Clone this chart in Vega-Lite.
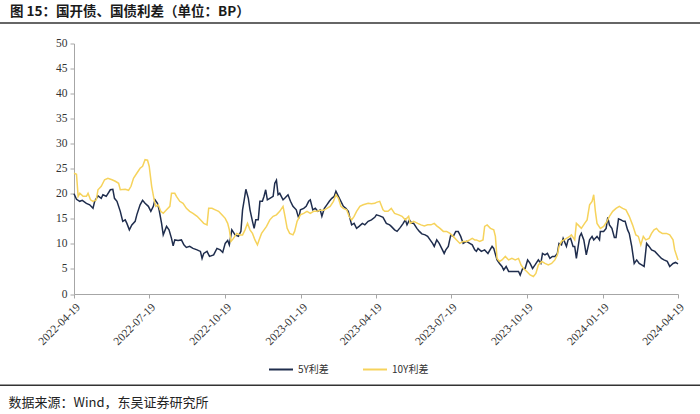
{
  "$schema": "https://vega.github.io/schema/vega-lite/v6.json",
  "width": 604,
  "height": 250.5,
  "autosize": {"type": "none"},
  "padding": {"left": 74, "top": 43.5, "right": 22, "bottom": 120},
  "background": "white",
  "title": {"text": "图 15：国开债、国债利差（单位：BP）", "anchor": "start", "frame": "group", "dx": -64, "offset": 4, "fontSize": 13.5, "fontWeight": "bold", "font": "Noto Sans CJK SC", "color": "#1a1a1a"},
  "config": {
    "view": {"stroke": null},
    "axisY": {"values": [0, 5, 10, 15, 20, 25, 30, 35, 40, 45, 50], "labelFont": "Liberation Serif", "labelFontSize": 11.5, "labelColor": "#333333", "domainColor": "#a6a6a6", "tickColor": "#a6a6a6", "tickSize": 4, "grid": false, "title": null, "labelPadding": 3, "labelOverlap": false},
    "legend": {"orient": "none", "legendX": 194, "legendY": 313, "direction": "horizontal", "symbolType": "stroke", "symbolSize": 576, "symbolStrokeWidth": 2, "labelFont": "Noto Sans CJK SC", "labelFontSize": 10, "labelColor": "#333", "columnPadding": 30, "labelOffset": 4, "padding": 0}
  },
  "layer": [
    {
      "data": {"values": [
        {"d":"2022-04-19","s":"5Y利差","v":20.0},{"d":"2022-04-22","s":"5Y利差","v":18.9},{"d":"2022-04-26","s":"5Y利差","v":18.5},{"d":"2022-04-29","s":"5Y利差","v":18.7},{"d":"2022-05-04","s":"5Y利差","v":18.1},{"d":"2022-05-08","s":"5Y利差","v":17.8},{"d":"2022-05-12","s":"5Y利差","v":17.1},{"d":"2022-05-14","s":"5Y利差","v":18.5},{"d":"2022-05-18","s":"5Y利差","v":19.6},{"d":"2022-05-22","s":"5Y利差","v":19.1},{"d":"2022-05-24","s":"5Y利差","v":19.8},{"d":"2022-05-28","s":"5Y利差","v":19.5},{"d":"2022-06-02","s":"5Y利差","v":20.8},{"d":"2022-06-05","s":"5Y利差","v":20.9},{"d":"2022-06-07","s":"5Y利差","v":19.1},{"d":"2022-06-10","s":"5Y利差","v":18.5},{"d":"2022-06-14","s":"5Y利差","v":16.5},{"d":"2022-06-17","s":"5Y利差","v":14.5},{"d":"2022-06-20","s":"5Y利差","v":14.8},{"d":"2022-06-22","s":"5Y利差","v":14.1},{"d":"2022-06-25","s":"5Y利差","v":12.8},{"d":"2022-06-28","s":"5Y利差","v":13.8},{"d":"2022-07-02","s":"5Y利差","v":14.5},{"d":"2022-07-04","s":"5Y利差","v":15.8},{"d":"2022-07-08","s":"5Y利差","v":17.8},{"d":"2022-07-11","s":"5Y利差","v":18.7},{"d":"2022-07-14","s":"5Y利差","v":18.1},{"d":"2022-07-18","s":"5Y利差","v":17.5},{"d":"2022-07-21","s":"5Y利差","v":16.5},{"d":"2022-07-24","s":"5Y利差","v":17.5},{"d":"2022-07-26","s":"5Y利差","v":18.8},{"d":"2022-07-29","s":"5Y利差","v":18.1},{"d":"2022-07-31","s":"5Y利差","v":16.8},{"d":"2022-08-03","s":"5Y利差","v":14.1},{"d":"2022-08-05","s":"5Y利差","v":11.8},{"d":"2022-08-09","s":"5Y利差","v":13.5},{"d":"2022-08-12","s":"5Y利差","v":12.8},{"d":"2022-08-15","s":"5Y利差","v":11.1},{"d":"2022-08-17","s":"5Y利差","v":9.6},{"d":"2022-08-19","s":"5Y利差","v":10.8},{"d":"2022-08-23","s":"5Y利差","v":10.7},{"d":"2022-08-27","s":"5Y利差","v":10.8},{"d":"2022-08-30","s":"5Y利差","v":9.8},{"d":"2022-09-02","s":"5Y利差","v":9.3},{"d":"2022-09-06","s":"5Y利差","v":9.5},{"d":"2022-09-10","s":"5Y利差","v":9.1},{"d":"2022-09-15","s":"5Y利差","v":8.8},{"d":"2022-09-19","s":"5Y利差","v":8.5},{"d":"2022-09-21","s":"5Y利差","v":7.1},{"d":"2022-09-23","s":"5Y利差","v":8.1},{"d":"2022-09-27","s":"5Y利差","v":8.5},{"d":"2022-09-30","s":"5Y利差","v":7.5},{"d":"2022-10-05","s":"5Y利差","v":7.8},{"d":"2022-10-09","s":"5Y利差","v":9.1},{"d":"2022-10-13","s":"5Y利差","v":8.8},{"d":"2022-10-16","s":"5Y利差","v":8.3},{"d":"2022-10-19","s":"5Y利差","v":10.1},{"d":"2022-10-22","s":"5Y利差","v":10.7},{"d":"2022-10-24","s":"5Y利差","v":9.8},{"d":"2022-10-27","s":"5Y利差","v":12.8},{"d":"2022-10-29","s":"5Y利差","v":12.3},{"d":"2022-10-31","s":"5Y利差","v":11.8},{"d":"2022-11-04","s":"5Y利差","v":11.5},{"d":"2022-11-07","s":"5Y利差","v":12.5},{"d":"2022-11-09","s":"5Y利差","v":16.8},{"d":"2022-11-11","s":"5Y利差","v":18.8},{"d":"2022-11-13","s":"5Y利差","v":20.9},{"d":"2022-11-16","s":"5Y利差","v":19.1},{"d":"2022-11-18","s":"5Y利差","v":16.8},{"d":"2022-11-21","s":"5Y利差","v":14.5},{"d":"2022-11-23","s":"5Y利差","v":13.1},{"d":"2022-11-25","s":"5Y利差","v":14.8},{"d":"2022-11-28","s":"5Y利差","v":14.8},{"d":"2022-11-30","s":"5Y利差","v":18.5},{"d":"2022-12-03","s":"5Y利差","v":18.5},{"d":"2022-12-05","s":"5Y利差","v":19.5},{"d":"2022-12-07","s":"5Y利差","v":20.8},{"d":"2022-12-09","s":"5Y利差","v":18.8},{"d":"2022-12-12","s":"5Y利差","v":19.1},{"d":"2022-12-16","s":"5Y利差","v":19.5},{"d":"2022-12-18","s":"5Y利差","v":22.1},{"d":"2022-12-20","s":"5Y利差","v":22.7},{"d":"2022-12-22","s":"5Y利差","v":19.8},{"d":"2022-12-24","s":"5Y利差","v":20.1},{"d":"2022-12-28","s":"5Y利差","v":18.8},{"d":"2022-12-30","s":"5Y利差","v":19.1},{"d":"2023-01-03","s":"5Y利差","v":19.8},{"d":"2023-01-06","s":"5Y利差","v":18.5},{"d":"2023-01-09","s":"5Y利差","v":17.5},{"d":"2023-01-13","s":"5Y利差","v":16.8},{"d":"2023-01-16","s":"5Y利差","v":15.1},{"d":"2023-01-18","s":"5Y利差","v":16.8},{"d":"2023-01-22","s":"5Y利差","v":17.1},{"d":"2023-01-25","s":"5Y利差","v":17.5},{"d":"2023-01-28","s":"5Y利差","v":18.5},{"d":"2023-01-30","s":"5Y利差","v":18.8},{"d":"2023-02-02","s":"5Y利差","v":16.8},{"d":"2023-02-05","s":"5Y利差","v":17.1},{"d":"2023-02-08","s":"5Y利差","v":16.5},{"d":"2023-02-11","s":"5Y利差","v":16.8},{"d":"2023-02-13","s":"5Y利差","v":15.5},{"d":"2023-02-16","s":"5Y利差","v":17.1},{"d":"2023-02-19","s":"5Y利差","v":17.8},{"d":"2023-02-22","s":"5Y利差","v":18.5},{"d":"2023-02-25","s":"5Y利差","v":19.1},{"d":"2023-02-28","s":"5Y利差","v":19.5},{"d":"2023-03-02","s":"5Y利差","v":20.5},{"d":"2023-03-05","s":"5Y利差","v":19.5},{"d":"2023-03-08","s":"5Y利差","v":18.5},{"d":"2023-03-11","s":"5Y利差","v":17.5},{"d":"2023-03-14","s":"5Y利差","v":17.1},{"d":"2023-03-17","s":"5Y利差","v":16.5},{"d":"2023-03-19","s":"5Y利差","v":15.1},{"d":"2023-03-21","s":"5Y利差","v":13.8},{"d":"2023-03-24","s":"5Y利差","v":14.1},{"d":"2023-03-27","s":"5Y利差","v":13.1},{"d":"2023-03-30","s":"5Y利差","v":13.5},{"d":"2023-04-03","s":"5Y利差","v":14.1},{"d":"2023-04-06","s":"5Y利差","v":13.8},{"d":"2023-04-10","s":"5Y利差","v":14.5},{"d":"2023-04-14","s":"5Y利差","v":14.8},{"d":"2023-04-18","s":"5Y利差","v":15.3},{"d":"2023-04-20","s":"5Y利差","v":15.8},{"d":"2023-04-24","s":"5Y利差","v":15.6},{"d":"2023-04-28","s":"5Y利差","v":15.3},{"d":"2023-05-02","s":"5Y利差","v":14.1},{"d":"2023-05-06","s":"5Y利差","v":13.8},{"d":"2023-05-08","s":"5Y利差","v":13.5},{"d":"2023-05-12","s":"5Y利差","v":12.8},{"d":"2023-05-15","s":"5Y利差","v":12.5},{"d":"2023-05-19","s":"5Y利差","v":13.3},{"d":"2023-05-22","s":"5Y利差","v":14.0},{"d":"2023-05-25","s":"5Y利差","v":14.8},{"d":"2023-05-27","s":"5Y利差","v":13.8},{"d":"2023-05-30","s":"5Y利差","v":14.8},{"d":"2023-06-02","s":"5Y利差","v":14.1},{"d":"2023-06-04","s":"5Y利差","v":14.1},{"d":"2023-06-08","s":"5Y利差","v":13.1},{"d":"2023-06-11","s":"5Y利差","v":12.5},{"d":"2023-06-14","s":"5Y利差","v":12.0},{"d":"2023-06-18","s":"5Y利差","v":11.8},{"d":"2023-06-21","s":"5Y利差","v":11.5},{"d":"2023-06-24","s":"5Y利差","v":10.8},{"d":"2023-06-27","s":"5Y利差","v":10.1},{"d":"2023-06-29","s":"5Y利差","v":9.5},{"d":"2023-07-02","s":"5Y利差","v":10.8},{"d":"2023-07-05","s":"5Y利差","v":10.1},{"d":"2023-07-08","s":"5Y利差","v":9.1},{"d":"2023-07-11","s":"5Y利差","v":8.1},{"d":"2023-07-13","s":"5Y利差","v":8.8},{"d":"2023-07-16","s":"5Y利差","v":9.5},{"d":"2023-07-19","s":"5Y利差","v":11.8},{"d":"2023-07-22","s":"5Y利差","v":11.5},{"d":"2023-07-25","s":"5Y利差","v":12.5},{"d":"2023-07-28","s":"5Y利差","v":12.5},{"d":"2023-07-31","s":"5Y利差","v":11.5},{"d":"2023-08-03","s":"5Y利差","v":10.1},{"d":"2023-08-07","s":"5Y利差","v":10.5},{"d":"2023-08-11","s":"5Y利差","v":10.1},{"d":"2023-08-14","s":"5Y利差","v":9.8},{"d":"2023-08-17","s":"5Y利差","v":8.8},{"d":"2023-08-19","s":"5Y利差","v":8.5},{"d":"2023-08-21","s":"5Y利差","v":9.1},{"d":"2023-08-25","s":"5Y利差","v":8.5},{"d":"2023-08-29","s":"5Y利差","v":8.8},{"d":"2023-09-02","s":"5Y利差","v":8.1},{"d":"2023-09-07","s":"5Y利差","v":9.5},{"d":"2023-09-09","s":"5Y利差","v":9.1},{"d":"2023-09-13","s":"5Y利差","v":6.8},{"d":"2023-09-16","s":"5Y利差","v":6.1},{"d":"2023-09-19","s":"5Y利差","v":5.5},{"d":"2023-09-21","s":"5Y利差","v":4.8},{"d":"2023-09-24","s":"5Y利差","v":5.5},{"d":"2023-09-27","s":"5Y利差","v":4.5},{"d":"2023-10-01","s":"5Y利差","v":4.5},{"d":"2023-10-05","s":"5Y利差","v":4.5},{"d":"2023-10-09","s":"5Y利差","v":4.5},{"d":"2023-10-11","s":"5Y利差","v":3.8},{"d":"2023-10-14","s":"5Y利差","v":5.1},{"d":"2023-10-17","s":"5Y利差","v":5.1},{"d":"2023-10-20","s":"5Y利差","v":6.8},{"d":"2023-10-23","s":"5Y利差","v":6.1},{"d":"2023-10-26","s":"5Y利差","v":5.1},{"d":"2023-10-29","s":"5Y利差","v":5.8},{"d":"2023-11-02","s":"5Y利差","v":6.8},{"d":"2023-11-05","s":"5Y利差","v":6.1},{"d":"2023-11-07","s":"5Y利差","v":8.1},{"d":"2023-11-10","s":"5Y利差","v":7.8},{"d":"2023-11-13","s":"5Y利差","v":8.1},{"d":"2023-11-16","s":"5Y利差","v":7.1},{"d":"2023-11-19","s":"5Y利差","v":7.5},{"d":"2023-11-22","s":"5Y利差","v":7.5},{"d":"2023-11-25","s":"5Y利差","v":8.1},{"d":"2023-11-27","s":"5Y利差","v":10.1},{"d":"2023-11-30","s":"5Y利差","v":9.8},{"d":"2023-12-02","s":"5Y利差","v":11.1},{"d":"2023-12-06","s":"5Y利差","v":9.5},{"d":"2023-12-08","s":"5Y利差","v":10.8},{"d":"2023-12-11","s":"5Y利差","v":11.1},{"d":"2023-12-14","s":"5Y利差","v":9.5},{"d":"2023-12-16","s":"5Y利差","v":9.5},{"d":"2023-12-18","s":"5Y利差","v":7.1},{"d":"2023-12-22","s":"5Y利差","v":11.5},{"d":"2023-12-24","s":"5Y利差","v":12.1},{"d":"2023-12-27","s":"5Y利差","v":10.8},{"d":"2023-12-30","s":"5Y利差","v":7.8},{"d":"2024-01-03","s":"5Y利差","v":10.8},{"d":"2024-01-06","s":"5Y利差","v":11.5},{"d":"2024-01-08","s":"5Y利差","v":10.8},{"d":"2024-01-12","s":"5Y利差","v":11.5},{"d":"2024-01-15","s":"5Y利差","v":10.8},{"d":"2024-01-16","s":"5Y利差","v":12.5},{"d":"2024-01-20","s":"5Y利差","v":12.5},{"d":"2024-01-23","s":"5Y利差","v":13.1},{"d":"2024-01-25","s":"5Y利差","v":15.3},{"d":"2024-01-27","s":"5Y利差","v":13.8},{"d":"2024-01-30","s":"5Y利差","v":13.1},{"d":"2024-02-02","s":"5Y利差","v":11.3},{"d":"2024-02-04","s":"5Y利差","v":11.3},{"d":"2024-02-07","s":"5Y利差","v":15.0},{"d":"2024-02-10","s":"5Y利差","v":14.8},{"d":"2024-02-13","s":"5Y利差","v":14.5},{"d":"2024-02-15","s":"5Y利差","v":14.5},{"d":"2024-02-18","s":"5Y利差","v":12.8},{"d":"2024-02-20","s":"5Y利差","v":12.1},{"d":"2024-02-23","s":"5Y利差","v":9.5},{"d":"2024-02-26","s":"5Y利差","v":6.1},{"d":"2024-02-29","s":"5Y利差","v":6.8},{"d":"2024-03-03","s":"5Y利差","v":6.1},{"d":"2024-03-06","s":"5Y利差","v":5.8},{"d":"2024-03-09","s":"5Y利差","v":5.5},{"d":"2024-03-12","s":"5Y利差","v":10.1},{"d":"2024-03-15","s":"5Y利差","v":9.5},{"d":"2024-03-18","s":"5Y利差","v":8.8},{"d":"2024-03-22","s":"5Y利差","v":8.5},{"d":"2024-03-26","s":"5Y利差","v":7.8},{"d":"2024-03-30","s":"5Y利差","v":7.1},{"d":"2024-04-02","s":"5Y利差","v":6.8},{"d":"2024-04-06","s":"5Y利差","v":6.5},{"d":"2024-04-09","s":"5Y利差","v":5.5},{"d":"2024-04-13","s":"5Y利差","v":6.1},{"d":"2024-04-16","s":"5Y利差","v":6.3},{"d":"2024-04-19","s":"5Y利差","v":6.0},
        {"d":"2022-04-19","s":"10Y利差","v":24.1},{"d":"2022-04-22","s":"10Y利差","v":23.9},{"d":"2022-04-24","s":"10Y利差","v":19.5},{"d":"2022-04-26","s":"10Y利差","v":20.1},{"d":"2022-04-30","s":"10Y利差","v":19.5},{"d":"2022-05-04","s":"10Y利差","v":19.5},{"d":"2022-05-06","s":"10Y利差","v":20.1},{"d":"2022-05-09","s":"10Y利差","v":18.8},{"d":"2022-05-12","s":"10Y利差","v":18.5},{"d":"2022-05-16","s":"10Y利差","v":18.8},{"d":"2022-05-18","s":"10Y利差","v":20.8},{"d":"2022-05-22","s":"10Y利差","v":21.5},{"d":"2022-05-26","s":"10Y利差","v":22.8},{"d":"2022-05-30","s":"10Y利差","v":23.1},{"d":"2022-06-04","s":"10Y利差","v":22.8},{"d":"2022-06-08","s":"10Y利差","v":22.5},{"d":"2022-06-12","s":"10Y利差","v":22.1},{"d":"2022-06-14","s":"10Y利差","v":20.8},{"d":"2022-06-20","s":"10Y利差","v":20.9},{"d":"2022-06-24","s":"10Y利差","v":20.7},{"d":"2022-06-27","s":"10Y利差","v":21.5},{"d":"2022-06-30","s":"10Y利差","v":23.1},{"d":"2022-07-04","s":"10Y利差","v":24.1},{"d":"2022-07-08","s":"10Y利差","v":25.1},{"d":"2022-07-11","s":"10Y利差","v":25.5},{"d":"2022-07-14","s":"10Y利差","v":26.8},{"d":"2022-07-17","s":"10Y利差","v":26.7},{"d":"2022-07-19","s":"10Y利差","v":25.5},{"d":"2022-07-22","s":"10Y利差","v":21.5},{"d":"2022-07-25","s":"10Y利差","v":18.8},{"d":"2022-07-27","s":"10Y利差","v":17.5},{"d":"2022-07-30","s":"10Y利差","v":17.8},{"d":"2022-08-02","s":"10Y利差","v":16.5},{"d":"2022-08-05","s":"10Y利差","v":16.1},{"d":"2022-08-09","s":"10Y利差","v":16.8},{"d":"2022-08-13","s":"10Y利差","v":17.5},{"d":"2022-08-15","s":"10Y利差","v":20.1},{"d":"2022-08-19","s":"10Y利差","v":20.1},{"d":"2022-08-21","s":"10Y利差","v":19.5},{"d":"2022-08-25","s":"10Y利差","v":18.5},{"d":"2022-08-29","s":"10Y利差","v":18.1},{"d":"2022-09-02","s":"10Y利差","v":17.1},{"d":"2022-09-06","s":"10Y利差","v":16.5},{"d":"2022-09-10","s":"10Y利差","v":16.1},{"d":"2022-09-15","s":"10Y利差","v":15.5},{"d":"2022-09-19","s":"10Y利差","v":14.8},{"d":"2022-09-23","s":"10Y利差","v":14.1},{"d":"2022-09-27","s":"10Y利差","v":13.8},{"d":"2022-09-29","s":"10Y利差","v":17.1},{"d":"2022-10-03","s":"10Y利差","v":17.1},{"d":"2022-10-07","s":"10Y利差","v":16.8},{"d":"2022-10-11","s":"10Y利差","v":16.5},{"d":"2022-10-15","s":"10Y利差","v":15.8},{"d":"2022-10-19","s":"10Y利差","v":15.1},{"d":"2022-10-22","s":"10Y利差","v":14.1},{"d":"2022-10-24","s":"10Y利差","v":12.8},{"d":"2022-10-26","s":"10Y利差","v":10.5},{"d":"2022-10-29","s":"10Y利差","v":11.1},{"d":"2022-11-02","s":"10Y利差","v":12.1},{"d":"2022-11-06","s":"10Y利差","v":11.8},{"d":"2022-11-09","s":"10Y利差","v":11.8},{"d":"2022-11-12","s":"10Y利差","v":12.8},{"d":"2022-11-15","s":"10Y利差","v":14.1},{"d":"2022-11-18","s":"10Y利差","v":12.8},{"d":"2022-11-21","s":"10Y利差","v":12.1},{"d":"2022-11-24","s":"10Y利差","v":10.8},{"d":"2022-11-27","s":"10Y利差","v":9.8},{"d":"2022-11-29","s":"10Y利差","v":10.8},{"d":"2022-12-02","s":"10Y利差","v":12.1},{"d":"2022-12-05","s":"10Y利差","v":12.8},{"d":"2022-12-08","s":"10Y利差","v":13.5},{"d":"2022-12-12","s":"10Y利差","v":14.8},{"d":"2022-12-16","s":"10Y利差","v":15.5},{"d":"2022-12-20","s":"10Y利差","v":15.8},{"d":"2022-12-24","s":"10Y利差","v":16.5},{"d":"2022-12-28","s":"10Y利差","v":17.5},{"d":"2022-12-30","s":"10Y利差","v":15.8},{"d":"2023-01-02","s":"10Y利差","v":13.1},{"d":"2023-01-05","s":"10Y利差","v":12.1},{"d":"2023-01-09","s":"10Y利差","v":11.8},{"d":"2023-01-11","s":"10Y利差","v":12.5},{"d":"2023-01-14","s":"10Y利差","v":14.5},{"d":"2023-01-18","s":"10Y利差","v":15.8},{"d":"2023-01-22","s":"10Y利差","v":16.1},{"d":"2023-01-26","s":"10Y利差","v":16.5},{"d":"2023-01-30","s":"10Y利差","v":16.1},{"d":"2023-02-03","s":"10Y利差","v":16.5},{"d":"2023-02-07","s":"10Y利差","v":16.5},{"d":"2023-02-11","s":"10Y利差","v":16.7},{"d":"2023-02-15","s":"10Y利差","v":16.7},{"d":"2023-02-19","s":"10Y利差","v":17.1},{"d":"2023-02-23","s":"10Y利差","v":17.5},{"d":"2023-02-27","s":"10Y利差","v":18.5},{"d":"2023-03-02","s":"10Y利差","v":19.8},{"d":"2023-03-05","s":"10Y利差","v":19.1},{"d":"2023-03-08","s":"10Y利差","v":17.5},{"d":"2023-03-11","s":"10Y利差","v":17.1},{"d":"2023-03-15","s":"10Y利差","v":16.8},{"d":"2023-03-18","s":"10Y利差","v":15.5},{"d":"2023-03-21","s":"10Y利差","v":14.8},{"d":"2023-03-24","s":"10Y利差","v":15.5},{"d":"2023-03-27","s":"10Y利差","v":16.5},{"d":"2023-03-31","s":"10Y利差","v":17.5},{"d":"2023-04-04","s":"10Y利差","v":17.8},{"d":"2023-04-10","s":"10Y利差","v":18.1},{"d":"2023-04-14","s":"10Y利差","v":18.0},{"d":"2023-04-18","s":"10Y利差","v":18.1},{"d":"2023-04-20","s":"10Y利差","v":18.3},{"d":"2023-04-24","s":"10Y利差","v":18.5},{"d":"2023-04-28","s":"10Y利差","v":16.8},{"d":"2023-04-30","s":"10Y利差","v":16.5},{"d":"2023-05-04","s":"10Y利差","v":16.5},{"d":"2023-05-08","s":"10Y利差","v":17.1},{"d":"2023-05-12","s":"10Y利差","v":16.1},{"d":"2023-05-17","s":"10Y利差","v":15.8},{"d":"2023-05-21","s":"10Y利差","v":15.5},{"d":"2023-05-25","s":"10Y利差","v":14.8},{"d":"2023-05-29","s":"10Y利差","v":15.5},{"d":"2023-05-31","s":"10Y利差","v":14.1},{"d":"2023-06-04","s":"10Y利差","v":14.5},{"d":"2023-06-09","s":"10Y利差","v":14.1},{"d":"2023-06-13","s":"10Y利差","v":13.8},{"d":"2023-06-17","s":"10Y利差","v":13.6},{"d":"2023-06-21","s":"10Y利差","v":13.8},{"d":"2023-06-25","s":"10Y利差","v":13.8},{"d":"2023-06-29","s":"10Y利差","v":14.1},{"d":"2023-07-02","s":"10Y利差","v":13.6},{"d":"2023-07-06","s":"10Y利差","v":13.1},{"d":"2023-07-10","s":"10Y利差","v":12.5},{"d":"2023-07-14","s":"10Y利差","v":12.5},{"d":"2023-07-18","s":"10Y利差","v":12.1},{"d":"2023-07-22","s":"10Y利差","v":11.5},{"d":"2023-07-26","s":"10Y利差","v":10.8},{"d":"2023-07-30","s":"10Y利差","v":10.1},{"d":"2023-08-03","s":"10Y利差","v":10.5},{"d":"2023-08-07","s":"10Y利差","v":10.5},{"d":"2023-08-11","s":"10Y利差","v":10.8},{"d":"2023-08-14","s":"10Y利差","v":11.1},{"d":"2023-08-17","s":"10Y利差","v":10.8},{"d":"2023-08-19","s":"10Y利差","v":10.8},{"d":"2023-08-23","s":"10Y利差","v":10.5},{"d":"2023-08-27","s":"10Y利差","v":10.8},{"d":"2023-08-29","s":"10Y利差","v":13.5},{"d":"2023-09-01","s":"10Y利差","v":13.8},{"d":"2023-09-05","s":"10Y利差","v":13.1},{"d":"2023-09-09","s":"10Y利差","v":12.8},{"d":"2023-09-11","s":"10Y利差","v":11.5},{"d":"2023-09-13","s":"10Y利差","v":7.1},{"d":"2023-09-16","s":"10Y利差","v":6.5},{"d":"2023-09-19","s":"10Y利差","v":6.8},{"d":"2023-09-23","s":"10Y利差","v":7.5},{"d":"2023-09-27","s":"10Y利差","v":6.8},{"d":"2023-10-01","s":"10Y利差","v":7.1},{"d":"2023-10-05","s":"10Y利差","v":6.8},{"d":"2023-10-09","s":"10Y利差","v":7.1},{"d":"2023-10-12","s":"10Y利差","v":5.8},{"d":"2023-10-15","s":"10Y利差","v":5.1},{"d":"2023-10-19","s":"10Y利差","v":4.5},{"d":"2023-10-23","s":"10Y利差","v":3.8},{"d":"2023-10-27","s":"10Y利差","v":3.5},{"d":"2023-10-30","s":"10Y利差","v":4.1},{"d":"2023-11-02","s":"10Y利差","v":5.8},{"d":"2023-11-06","s":"10Y利差","v":6.5},{"d":"2023-11-10","s":"10Y利差","v":6.1},{"d":"2023-11-14","s":"10Y利差","v":5.8},{"d":"2023-11-18","s":"10Y利差","v":6.1},{"d":"2023-11-22","s":"10Y利差","v":6.8},{"d":"2023-11-25","s":"10Y利差","v":7.8},{"d":"2023-11-27","s":"10Y利差","v":9.5},{"d":"2023-11-30","s":"10Y利差","v":10.5},{"d":"2023-12-03","s":"10Y利差","v":10.8},{"d":"2023-12-06","s":"10Y利差","v":11.1},{"d":"2023-12-10","s":"10Y利差","v":11.5},{"d":"2023-12-12","s":"10Y利差","v":11.8},{"d":"2023-12-16","s":"10Y利差","v":10.8},{"d":"2023-12-18","s":"10Y利差","v":14.1},{"d":"2023-12-20","s":"10Y利差","v":13.8},{"d":"2023-12-24","s":"10Y利差","v":13.1},{"d":"2023-12-28","s":"10Y利差","v":14.1},{"d":"2023-12-31","s":"10Y利差","v":14.8},{"d":"2024-01-03","s":"10Y利差","v":17.8},{"d":"2024-01-06","s":"10Y利差","v":18.5},{"d":"2024-01-08","s":"10Y利差","v":19.8},{"d":"2024-01-10","s":"10Y利差","v":16.5},{"d":"2024-01-12","s":"10Y利差","v":14.1},{"d":"2024-01-16","s":"10Y利差","v":13.1},{"d":"2024-01-20","s":"10Y利差","v":13.5},{"d":"2024-01-24","s":"10Y利差","v":14.5},{"d":"2024-01-27","s":"10Y利差","v":15.5},{"d":"2024-01-31","s":"10Y利差","v":16.5},{"d":"2024-02-04","s":"10Y利差","v":17.1},{"d":"2024-02-08","s":"10Y利差","v":17.5},{"d":"2024-02-12","s":"10Y利差","v":17.1},{"d":"2024-02-16","s":"10Y利差","v":16.8},{"d":"2024-02-20","s":"10Y利差","v":15.5},{"d":"2024-02-24","s":"10Y利差","v":13.8},{"d":"2024-02-28","s":"10Y利差","v":11.8},{"d":"2024-03-02","s":"10Y利差","v":11.5},{"d":"2024-03-05","s":"10Y利差","v":9.8},{"d":"2024-03-08","s":"10Y利差","v":11.5},{"d":"2024-03-11","s":"10Y利差","v":10.8},{"d":"2024-03-15","s":"10Y利差","v":11.1},{"d":"2024-03-18","s":"10Y利差","v":12.1},{"d":"2024-03-21","s":"10Y利差","v":12.8},{"d":"2024-03-24","s":"10Y利差","v":13.1},{"d":"2024-03-27","s":"10Y利差","v":12.5},{"d":"2024-03-31","s":"10Y利差","v":12.1},{"d":"2024-04-05","s":"10Y利差","v":12.1},{"d":"2024-04-09","s":"10Y利差","v":11.8},{"d":"2024-04-13","s":"10Y利差","v":10.8},{"d":"2024-04-15","s":"10Y利差","v":8.8},{"d":"2024-04-19","s":"10Y利差","v":6.8}
      ]},
      "mark": {"type": "line", "strokeWidth": 1.5},
      "encoding": {
        "x": {"field": "d", "type": "temporal",
          "scale": {"type": "utc", "domain": [{"year": 2022, "month": 4, "date": 19, "utc": true}, {"year": 2024, "month": 4, "date": 19, "utc": true}]},
          "axis": {
            "values": [
              {"year": 2022, "month": 4, "date": 19, "utc": true},
              {"year": 2022, "month": 7, "date": 19, "utc": true},
              {"year": 2022, "month": 10, "date": 19, "utc": true},
              {"year": 2023, "month": 1, "date": 19, "utc": true},
              {"year": 2023, "month": 4, "date": 19, "utc": true},
              {"year": 2023, "month": 7, "date": 19, "utc": true},
              {"year": 2023, "month": 10, "date": 19, "utc": true},
              {"year": 2024, "month": 1, "date": 19, "utc": true},
              {"year": 2024, "month": 4, "date": 19, "utc": true}
            ],
            "format": "%Y-%m-%d", "labelAngle": -45, "labelFont": "Liberation Serif", "labelFontSize": 11.5, "labelColor": "#333333",
            "domainColor": "#a6a6a6", "tickColor": "#a6a6a6", "tickSize": 4, "grid": false, "labelPadding": 3, "labelOverlap": false, "labelFlush": false,
            "title": "数据来源：Wind，东吴证券研究所", "titleFont": "Noto Sans CJK SC", "titleFontSize": 13, "titleFontWeight": "normal", "titleColor": "#222222",
            "titleAnchor": "start", "titleAlign": "left", "titleX": -66, "titleY": 112, "titleBaseline": "alphabetic"
          }
        },
        "y": {"field": "v", "type": "quantitative",
          "scale": {"domain": [0, 50]},
          "axis": {"values": [0, 5, 10, 15, 20, 25, 30, 35, 40, 45, 50], "labelOverlap": false, "title": null}
        },
        "color": {"field": "s", "type": "nominal", "scale": {"domain": ["5Y利差", "10Y利差"], "range": ["#1f2d4d", "#f6d35c"]}, "legend": {"title": null}}
      }
    },
    {
      "data": {"values": [{}]},
      "mark": {"type": "rule", "stroke": "#333333", "strokeWidth": 1.5},
      "encoding": {
        "x": {"datum": {"year": 2022, "month": 1, "date": 15, "utc": true}, "type": "temporal", "scale": {"type": "utc", "domain": [{"year": 2022, "month": 4, "date": 19, "utc": true}, {"year": 2024, "month": 4, "date": 19, "utc": true}]}},
        "x2": {"datum": {"year": 2024, "month": 5, "date": 20, "utc": true}},
        "y": {"datum": 54.1, "type": "quantitative", "scale": {"domain": [0, 50]}, "axis": {"values": [0, 5, 10, 15, 20, 25, 30, 35, 40, 45, 50], "labelOverlap": false, "title": null}}
      }
    },
    {
      "data": {"values": [{}]},
      "mark": {"type": "rule", "stroke": "#333333", "strokeWidth": 1.5},
      "encoding": {
        "x": {"datum": {"year": 2022, "month": 1, "date": 15, "utc": true}, "type": "temporal", "scale": {"type": "utc", "domain": [{"year": 2022, "month": 4, "date": 19, "utc": true}, {"year": 2024, "month": 4, "date": 19, "utc": true}]}},
        "x2": {"datum": {"year": 2024, "month": 5, "date": 20, "utc": true}},
        "y": {"datum": -18.2, "type": "quantitative", "scale": {"domain": [0, 50]}, "axis": {"values": [0, 5, 10, 15, 20, 25, 30, 35, 40, 45, 50], "labelOverlap": false, "title": null}}
      }
    }
  ]
}
